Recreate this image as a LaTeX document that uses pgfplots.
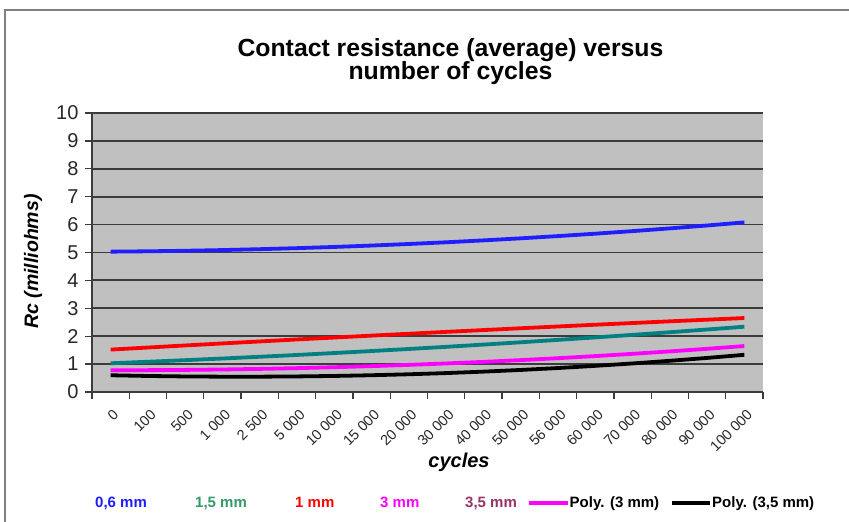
\documentclass[border=0pt]{standalone}
\usepackage{fontspec}
\setmainfont{Liberation Sans}
\usepackage{pgfplots}
\usepackage{pgfplotstable}
\pgfplotsset{compat=1.18}
\definecolor{plotbg}{RGB}{192,192,192}
\definecolor{gridc}{RGB}{60,60,60}
\definecolor{framec}{RGB}{128,128,128}
\definecolor{tealc}{RGB}{0,128,128}
\definecolor{greenc}{RGB}{51,153,102}
\definecolor{mauvec}{RGB}{153,51,102}
\definecolor{bluec}{RGB}{30,30,255}
\definecolor{redc}{RGB}{255,0,0}
\definecolor{magc}{RGB}{255,0,255}
\definecolor{tickc}{RGB}{40,40,40}

\pgfplotstableread{
i  a06    a15    a1     a3     a35
0  5.030  1.030  1.520  0.780  0.600
1  5.043  1.084  1.594  0.783  0.574
2  5.062  1.141  1.668  0.792  0.557
3  5.087  1.200  1.741  0.807  0.549
4  5.119  1.263  1.812  0.828  0.549
5  5.156  1.328  1.883  0.855  0.558
6  5.199  1.397  1.952  0.888  0.575
7  5.249  1.468  2.021  0.927  0.601
8  5.305  1.542  2.088  0.972  0.635
9  5.366  1.619  2.155  1.023  0.678
10 5.434  1.699  2.220  1.080  0.730
11 5.508  1.782  2.285  1.143  0.790
12 5.588  1.868  2.348  1.212  0.859
13 5.674  1.956  2.411  1.287  0.937
14 5.766  2.048  2.472  1.368  1.023
15 5.864  2.142  2.533  1.455  1.118
16 5.968  2.240  2.592  1.548  1.221
17 6.079  2.340  2.651  1.647  1.333
}\datatable

\begin{document}
\begin{tikzpicture}[x=1pt,y=1pt]
\useasboundingbox (0,0) rectangle (849,522);
\fill[white] (0,0) rectangle (849,522);
\draw[line width=2pt, framec] (5,0) -- (5,512) -- (849,512);
\begin{axis}[
  at={(92pt,130pt)}, anchor=south west,
  scale only axis, width=671pt, height=279pt,
  xmin=-0.5, xmax=17.5, ymin=0, ymax=10,
  axis background/.style={fill=plotbg},
  axis x line*=bottom, axis y line*=left,
  axis line style={-, draw=gridc, line width=1.8pt},
  ytick={0,1,...,10},
  ymajorgrids, grid style={gridc, line width=1.8pt},
  xtick={-0.5,0.5,...,17.5},
  x tick label as interval,
  xticklabels={0,100,500,1 000,2 500,5 000,10 000,15 000,20 000,30 000,40 000,50 000,56 000,60 000,70 000,80 000,90 000,100 000},
  tick align=outside, major tick length=7pt,
  tick style={gridc, line width=1.3pt},
  /pgf/number format/assume math mode=true,
  yticklabel style={font=\fontsize{20}{20}\selectfont, text=tickc, xshift=-3pt},
  xticklabel style={font=\fontsize{14.5}{14.5}\selectfont, text=tickc, rotate=45, anchor=east, xshift=-2pt, yshift=-13pt},
  legend columns=7,
  legend style={at={(0.0045,-0.398)}, anchor=west, draw=none, fill=none,
    inner sep=0pt, column sep=0pt, row sep=0pt,
    font=\fontsize{15}{15}\bfseries\selectfont,
    nodes={inner sep=0pt}},
  legend cell align=left,
]
\addplot[bluec, line width=3.8pt, forget plot] table[x=i,y=a06]{\datatable};
\addplot[tealc, line width=3.8pt, forget plot] table[x=i,y=a15]{\datatable};
\addplot[redc, line width=3.8pt, forget plot] table[x=i,y=a1]{\datatable};
\addplot[magc, line width=3.8pt, forget plot] table[x=i,y=a3]{\datatable};
\addplot[black, line width=3.8pt, forget plot] table[x=i,y=a35]{\datatable};
\addlegendimage{empty legend}
\addlegendentry{\makebox[100pt][l]{\textcolor{bluec}{0,6 mm}}}
\addlegendimage{empty legend}
\addlegendentry{\makebox[100pt][l]{\textcolor{greenc}{1,5 mm}}}
\addlegendimage{empty legend}
\addlegendentry{\makebox[85pt][l]{\textcolor{redc}{1 mm}}}
\addlegendimage{empty legend}
\addlegendentry{\makebox[85pt][l]{\textcolor{magc}{3 mm}}}
\addlegendimage{empty legend}
\addlegendentry{\makebox[62pt][l]{\textcolor{mauvec}{3,5 mm}}}
\addlegendimage{legend image code/.code={\draw[magc, line width=3.5pt] (0pt,0pt) -- (39pt,0pt);}}
\addlegendentry{\makebox[101pt][l]{Poly. (3 mm)}}
\addlegendimage{legend image code/.code={\draw[black, line width=3.5pt] (0pt,0pt) -- (38pt,0pt);}}
\addlegendentry{Poly. (3,5 mm)}
\end{axis}
\node[anchor=base, font=\fontsize{24.8}{24.8}\bfseries\selectfont] at (450.5,465) {Contact resistance (average) versus};
\node[anchor=base, font=\fontsize{24.8}{24.8}\bfseries\selectfont] at (450.5,442) {number of cycles};
\node[anchor=base, font=\fontsize{20}{20}\bfseries\itshape\selectfont] at (459,54) {cycles};
\node[rotate=90, font=\fontsize{19.5}{19.5}\bfseries\itshape\selectfont] at (33,260.5) {Rc (milliohms)};
\end{tikzpicture}
\end{document}
